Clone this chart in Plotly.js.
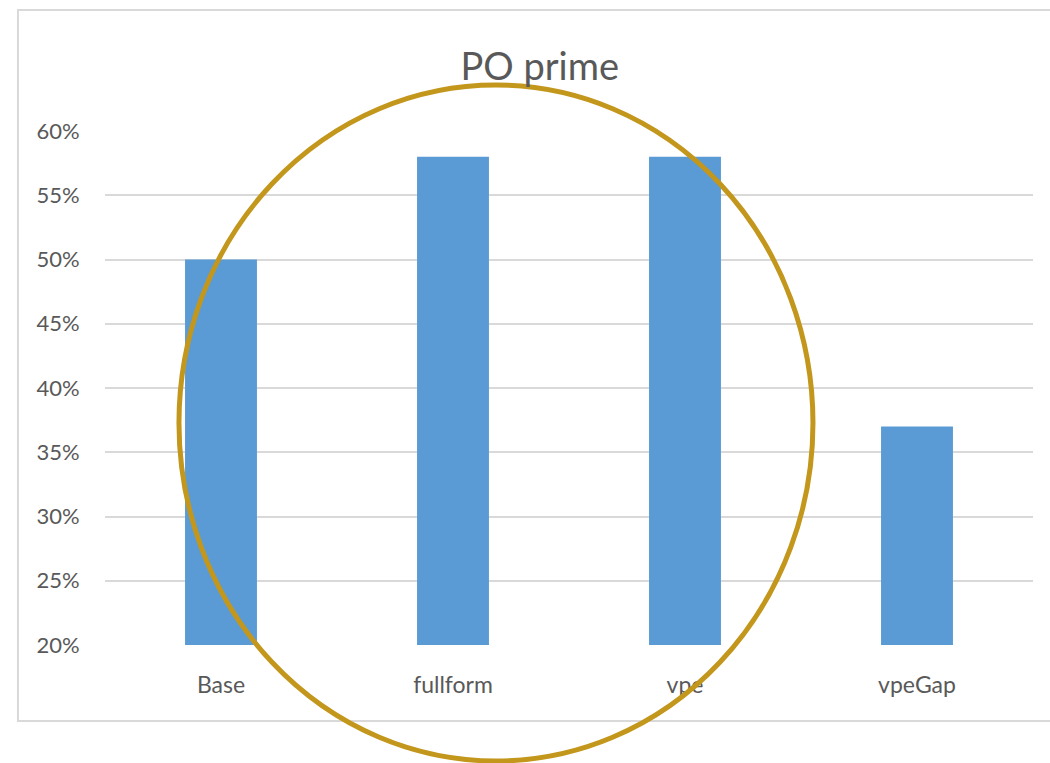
<!DOCTYPE html>
<html>
<head>
<meta charset="utf-8">
<script src="https://cdn.plot.ly/plotly-3.0.1.min.js"></script>
<style>html,body{margin:0;padding:0;background:#fff;}#chart{width:1050px;height:763px;}</style>
</head>
<body>
<div id="chart"></div>
<script>
const categories = ["Base", "fullform", "vpe", "vpeGap"];
const values = [0.50, 0.58, 0.58, 0.37];
const yTickVals = [0.20, 0.25, 0.30, 0.35, 0.40, 0.45, 0.50, 0.55, 0.60];
const yTickText = ["20%", "25%", "30%", "35%", "40%", "45%", "50%", "55%", "60%"];

const trace = {
  type: "bar",
  x: categories,
  y: values,
  marker: {color: "#5B9BD5"},
  hoverinfo: "x+y"
};

const layout = {
  width: 1050,
  height: 763,
  margin: {l: 105, r: 17, t: 131, b: 118},
  paper_bgcolor: "#ffffff",
  plot_bgcolor: "#ffffff",
  showlegend: false,
  bargap: 0.69,
  font: {family: "Lato, 'Liberation Sans', sans-serif", color: "#595959"},
  title: {
    text: "PO prime",
    font: {family: "Lato, 'Liberation Sans', sans-serif", size: 38, color: "#595959"},
    x: 0.514, xanchor: "center", xref: "container",
    y: 0.913, yanchor: "middle", yref: "container"
  },
  xaxis: {
    type: "category",
    showgrid: false,
    zeroline: false,
    showline: false,
    ticks: "outside",
    ticklen: 19,
    tickcolor: "rgba(0,0,0,0)",
    tickfont: {size: 23, color: "#595959"}
  },
  yaxis: {
    range: [0.2, 0.6],
    tickvals: yTickVals,
    ticktext: yTickText,
    showgrid: true,
    gridcolor: "#D9D9D9",
    gridwidth: 2,
    zeroline: false,
    showline: false,
    ticks: "outside",
    ticklen: 20,
    tickcolor: "rgba(0,0,0,0)",
    tickfont: {size: 22, color: "#595959"}
  },
  shapes: [
    {
      type: "rect", xref: "paper", yref: "paper",
      x0: -0.0938, x1: 1.04, y0: -0.1479, y1: 1.2354,
      line: {color: "#D9D9D9", width: 2}, layer: "below"
    },
    {
      type: "circle", xref: "paper", yref: "paper",
      x0: 0.0797, x1: 0.7629, y0: -0.2257, y1: 1.0895,
      line: {color: "#C3961C", width: 5}, layer: "above"
    }
  ]
};

Plotly.newPlot("chart", [trace], layout, {displayModeBar: false, staticPlot: true});
</script>
</body>
</html>
